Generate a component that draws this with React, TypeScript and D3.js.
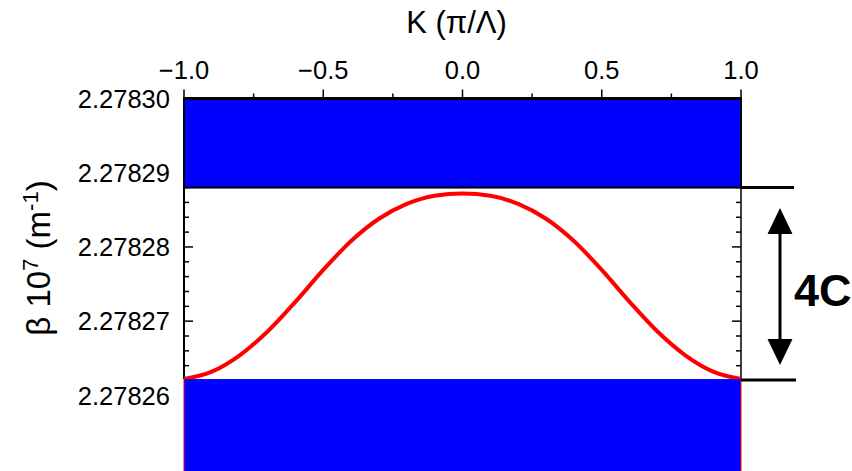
import * as d3 from 'd3';

const kValues = [-1.0, -0.9, -0.8, -0.7, -0.6, -0.5, -0.4, -0.3, -0.2, -0.1, 0.0,
  0.1, 0.2, 0.3, 0.4, 0.5, 0.6, 0.7, 0.8, 0.9, 1.0];
const betaValues = [2.2782622, 2.2782632, 2.2782654, 2.2782686, 2.2782726, 2.2782769,
  2.2782808, 2.2782838, 2.2782858, 2.2782869, 2.2782872, 2.2782869, 2.2782858,
  2.2782838, 2.2782808, 2.2782769, 2.2782726, 2.2782686, 2.2782654, 2.2782632, 2.2782622];

const upperBand = [2.278288, 2.2783];
const lowerBand = [2.27825, 2.2782622];

const kTicks = [-1.0, -0.5, 0.0, 0.5, 1.0];
const kMinorTicks = [-0.75, -0.25, 0.25, 0.75];
const betaTicks = [2.27826, 2.27827, 2.27828, 2.27829, 2.2783];
const betaMinorTicks = [2.278262, 2.278264, 2.278266, 2.278268, 2.278272, 2.278274, 2.278276,
  2.278278, 2.278282, 2.278284, 2.278286, 2.278288];

const width = 852, height = 471;
const font = '"Liberation Sans", Arial, Helvetica, sans-serif';

export default function App() {
  const x = d3.scaleLinear().domain([-1, 1]).range([184, 741]);
  const y = d3.scaleLinear().domain([2.27825, 2.2783]).range([469.6, 98.5]);
  const fk = d3.format('.1f');
  const fb = d3.format('.5f');

  const pts: [number, number][] = kValues.map((k, i) => [k, betaValues[i]]);
  const line = d3.line<[number, number]>()
    .x(d => x(d[0]))
    .y(d => y(d[1]))
    .curve(d3.curveMonotoneX);

  const x0 = x(-1), x1 = x(1);
  const yTop = y(2.2783);
  const yBandBottom = y(upperBand[0]);
  const yLowTop = y(lowerBand[1]);
  const arrowX = 780;

  return (
    <svg width={width} height={height} style={{ position: 'absolute', left: 0, top: 0 }}
      fontFamily={font}>
      <rect width={width} height={height} fill="#fff" />

      {/* axes lines */}
      <line x1={x0} x2={x0} y1={yTop} y2={yLowTop} stroke="#000" strokeWidth={2} />
      <line x1={x1} x2={x1} y1={yTop} y2={yLowTop} stroke="#000" strokeWidth={1.5} />

      {/* left / right ticks pointing inward */}
      {betaTicks.map(b => (
        <g key={'bt' + b}>
          <line x1={x0} x2={x0 + 9} y1={y(b)} y2={y(b)} stroke="#000" strokeWidth={1.5} />
          <line x1={x1} x2={x1 - 9} y1={y(b)} y2={y(b)} stroke="#000" strokeWidth={1.5} />
          <text x={170} y={y(b)} dy="0.36em" textAnchor="end" fontSize={25.5}>{fb(b)}</text>
        </g>
      ))}
      {betaMinorTicks.map(b => (
        <g key={'bm' + b}>
          <line x1={x0} x2={x0 + 5} y1={y(b)} y2={y(b)} stroke="#000" strokeWidth={1.5} />
          <line x1={x1} x2={x1 - 5} y1={y(b)} y2={y(b)} stroke="#000" strokeWidth={1.5} />
        </g>
      ))}

      {/* top ticks pointing outward */}
      {kTicks.map(k => (
        <g key={'kt' + k}>
          <line x1={x(k)} x2={x(k)} y1={yTop} y2={yTop - 9} stroke="#000" strokeWidth={1.5} />
          <text x={x(k)} y={yTop - 20} textAnchor="middle" fontSize={25.5}>{fk(k)}</text>
        </g>
      ))}
      {kMinorTicks.map(k => (
        <line key={'km' + k} x1={x(k)} x2={x(k)} y1={yTop} y2={yTop - 5} stroke="#000" strokeWidth={1.5} />
      ))}

      {/* upper band */}
      <rect x={x0} y={yTop} width={x1 - x0} height={yBandBottom - yTop}
        fill="#0000ff" stroke="#000" strokeWidth={2} />
      <line x1={x0 - 1} x2={x1 + 1} y1={yTop} y2={yTop} stroke="#000" strokeWidth={3} />

      {/* curve */}
      <path d={line(pts) ?? ''} fill="none" stroke="#ff0000" strokeWidth={4} />

      {/* lower band */}
      <rect x={x0} y={yLowTop} width={x1 - x0} height={height - yLowTop} fill="#0000ff" />
      <line x1={x0} x2={x0} y1={yLowTop} y2={height} stroke="#ff0000" strokeWidth={1} />
      <line x1={x1} x2={x1} y1={yLowTop} y2={height} stroke="#ff0000" strokeWidth={1} />

      {/* 4C annotation */}
      <line x1={x1} x2={794} y1={yBandBottom} y2={yBandBottom} stroke="#000" strokeWidth={3} />
      <line x1={x1} x2={796} y1={yLowTop + 1} y2={yLowTop + 1} stroke="#000" strokeWidth={3} />
      <line x1={arrowX} x2={arrowX} y1={230} y2={342} stroke="#000" strokeWidth={3} />
      <path d={`M${arrowX},208 L${arrowX - 12.5},234 L${arrowX + 12.5},234 Z`} fill="#000" />
      <path d={`M${arrowX},365 L${arrowX - 12.5},339 L${arrowX + 12.5},339 Z`} fill="#000" />
      <text x={794} y={306} fontSize={45} fontWeight="bold">4C</text>

      {/* axis titles */}
      <text x={x(0) - 6} y={33} textAnchor="middle" fontSize={31}>K (π/Λ)</text>
      <text transform={`translate(50,${258}) rotate(-90)`} textAnchor="middle" fontSize={33}>
        β 10<tspan dy={-12} fontSize={22}>7</tspan><tspan dy={12}> (m</tspan>
        <tspan dy={-12} fontSize={22}>-1</tspan><tspan dy={12}>)</tspan>
      </text>
    </svg>
  );
}
